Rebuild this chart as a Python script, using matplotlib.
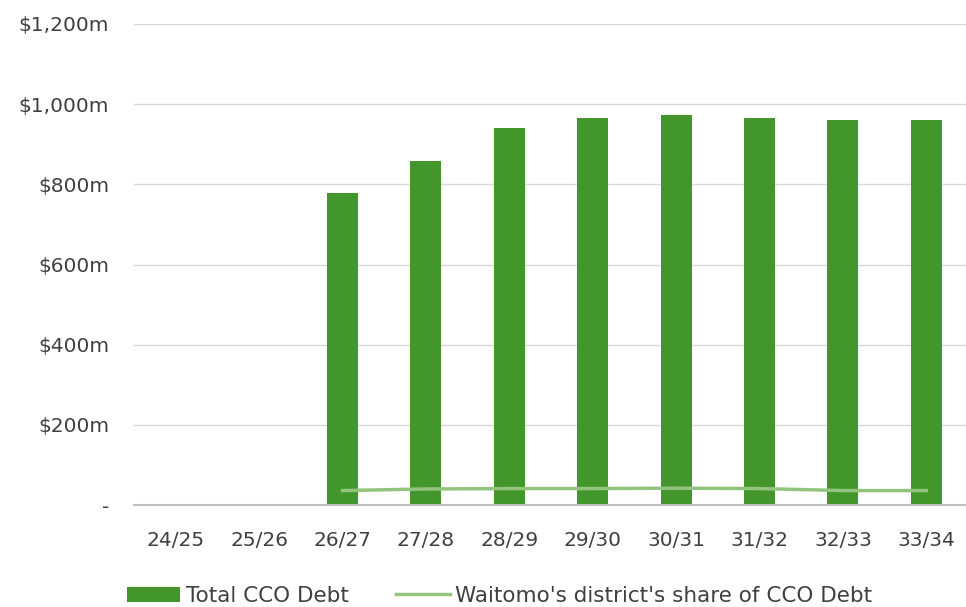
import matplotlib
matplotlib.use("Agg")
import matplotlib.pyplot as plt
from matplotlib.patches import Patch
from matplotlib.lines import Line2D
import numpy as np

categories = ["24/25", "25/26", "26/27", "27/28", "28/29", "29/30", "30/31", "31/32", "32/33", "33/34"]
total_cco_debt = [0, 0, 778, 858, 940, 965, 973, 965, 960, 960]
waitomo_share = [np.nan, np.nan, 36, 40, 41, 41, 42, 41, 36, 36]
ytick_vals = [0, 200, 400, 600, 800, 1000, 1200]
ytick_labels = ["-", "$200m", "$400m", "$600m", "$800m", "$1,000m", "$1,200m"]

plt.rcParams['font.family'] = ['DejaVu Sans']

fig = plt.figure(figsize=(9.66, 6.07), dpi=100)
ax = fig.add_axes([134/966, 1 - 505/607, 834/966, 481/607])

x = np.arange(len(categories))
bar_color = "#43962B"
line_color = "#93C47D"
ax.bar(x, total_cco_debt, width=0.37, color=bar_color, zorder=2)
ax.plot(x, waitomo_share, color=line_color, linewidth=2.5, zorder=3)

ax.set_xlim(-0.5, len(categories) - 0.5)
ax.set_ylim(0, 1200)
ax.set_yticks(ytick_vals)
ax.set_yticklabels(ytick_labels)
ax.set_xticks(x)
ax.set_xticklabels(categories)
ax.grid(axis='y', color='#d9d9d9', linewidth=1, zorder=0)
ax.set_axisbelow(True)
for s in ["top", "right", "left"]:
    ax.spines[s].set_visible(False)
ax.spines["bottom"].set_color("#bfbfbf")
ax.spines["bottom"].set_linewidth(1.5)
ax.tick_params(axis='both', length=0, labelsize=14.5, colors='#404040')
ax.tick_params(axis='y', pad=18)
ax.tick_params(axis='x', pad=19)

handles = [Patch(facecolor=bar_color, label="Total CCO Debt"),
           Line2D([0], [0], color=line_color, linewidth=2.5, label="Waitomo's district's share of CCO Debt")]
fig.legend(handles=handles, loc='lower center', ncol=2, frameon=False, fontsize=15.5,
           bbox_to_anchor=(0.517, -0.03), handlelength=2.5, handletextpad=0.25,
           columnspacing=2.2, labelcolor='#404040')

fig.savefig("out.png", dpi=100)
